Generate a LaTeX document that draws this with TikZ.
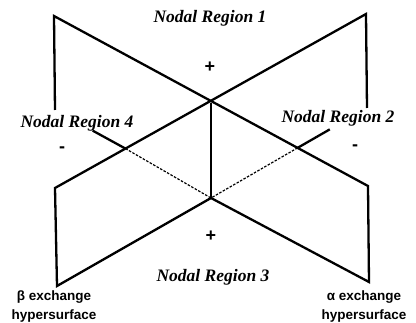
\documentclass[tikz,border=0pt]{standalone}
\usepackage{fontspec}
\setmainfont{Liberation Serif}
\newfontfamily\lsans{Liberation Sans}
\usetikzlibrary{calc}
\begin{document}
\begin{tikzpicture}[x=1pt,y=-1pt,
  edge/.style={line width=2.3pt,line join=miter},
  hidden/.style={line width=1.2pt,dash pattern=on 2.5pt off 1.5pt},
  region/.style={font=\fontsize{17.5}{19}\selectfont\bfseries\itshape,inner sep=0pt},
  sign/.style={font=\lsans\fontsize{18}{18}\selectfont\bfseries,inner sep=0pt},
  surf/.style={font=\lsans\fontsize{13.5}{19}\selectfont\bfseries,align=center,inner sep=0pt}]
\useasboundingbox (0,0) rectangle (416,323);
% alpha hypersurface
\coordinate (A1) at (54,16);
\coordinate (A2) at (368,186);
\coordinate (A3) at (369,282);
\coordinate (A4) at (55,110);
% beta hypersurface
\coordinate (B1) at (366,14);
\coordinate (B2) at (55,188);
\coordinate (B3) at (57,286);
\coordinate (B4) at (367,108);
% intersection line
\coordinate (C) at (211,103);
\coordinate (D) at (211,198);
\coordinate (EL) at (intersection of A4--A3 and B1--B2);
\coordinate (ER) at (intersection of B3--B4 and A1--A2);
\coordinate (FL) at ($(A4)!0.12!(A3)$);
\coordinate (FR) at ($(B4)!0.12!(B3)$);
% alpha
\draw[edge] (A4) -- (A1) -- (A2) -- (A3) -- (D);
\draw[edge] (FL) -- (EL);
\draw[hidden] (EL) -- (D);
% beta
\draw[edge] (B4) -- (B1) -- (B2) -- (B3) -- (D);
\draw[edge] (FR) -- (ER);
\draw[hidden] (ER) -- (D);
% intersection
\draw[edge] (C) -- (D);
% labels
\node[region] (r1) at (210,18) {Nodal Region 1};
\node[region] (r2) at (338,118) {Nodal Region 2};
\node[region] (r3) at (213,277) {Nodal Region 3};
\node[region] (r4) at (77,123) {Nodal Region 4};
\node[sign] (p1) at (210,67) {+};
\node[sign] (p3) at (211,236) {+};
\node[sign] (m4) at (62,150) {-};
\node[sign] (m2) at (355,148) {-};
\node[surf] (bl) at (54,307) {β exchange\\hypersurface};
\node[surf] (al) at (364,307) {α exchange\\hypersurface};
\end{tikzpicture}
\end{document}
